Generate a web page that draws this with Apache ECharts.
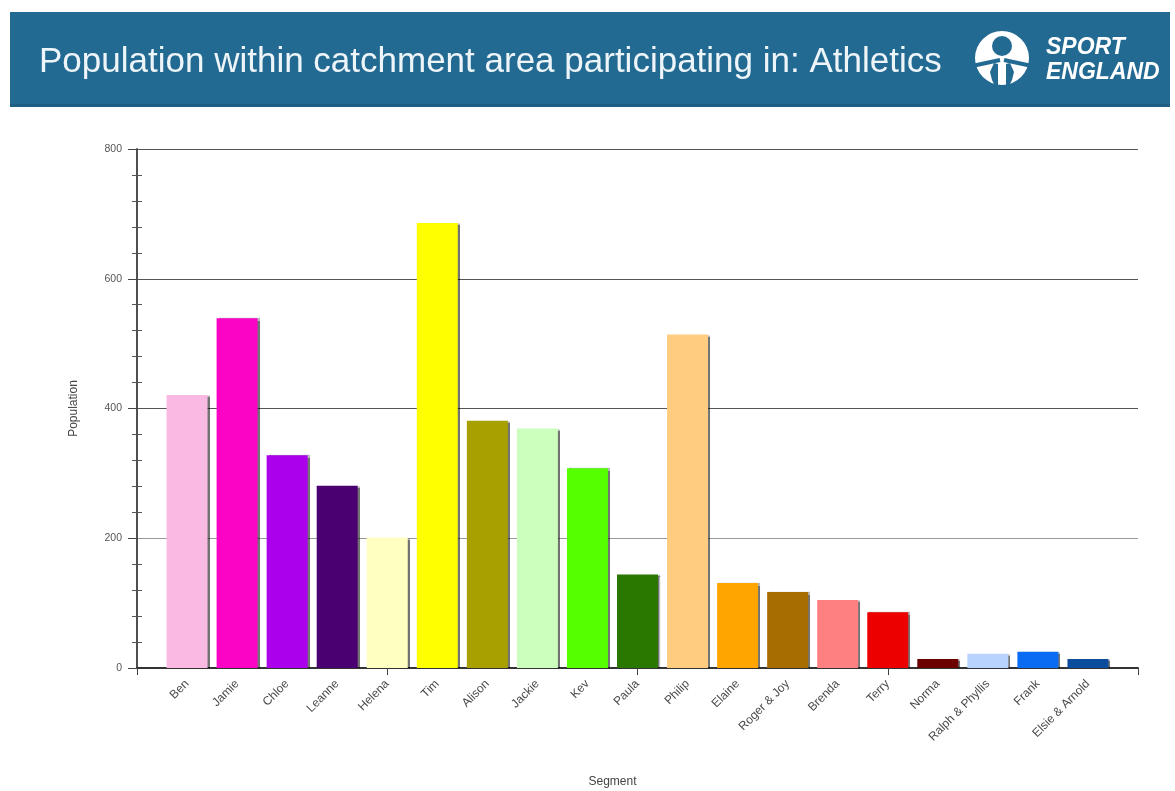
<!DOCTYPE html>
<html>
<head>
<meta charset="utf-8">
<script src="https://cdn.jsdelivr.net/npm/echarts@6/dist/echarts.min.js"></script>
<style>
html,body{margin:0;padding:0;background:#fff;}
#chart{width:1175px;height:791px;}
</style>
</head>
<body>
<div id="chart"></div>
<script>
const titleText = 'Population within catchment area participating in: Athletics';
const categories = ['Ben','Jamie','Chloe','Leanne','Helena','Tim','Alison','Jackie','Kev','Paula','Philip','Elaine','Roger & Joy','Brenda','Terry','Norma','Ralph & Phyllis','Frank','Elsie & Arnold'];
const values = [421, 539, 328, 281, 201, 686, 381, 369, 308, 144, 514, 131, 117, 105, 86, 14, 22, 25, 14];
const yTicks = [0, 200, 400, 600, 800];
const barColors = ['#f9b9e3','#fb04c6','#aa00ec','#4b0072','#ffffc2','#ffff00','#a89f00','#ccffbd','#55ff00','#2a7800','#ffcc80','#ffa500','#a86d00','#ff8080','#ec0000','#6c0000','#b9d3ff','#0a6cf2','#0b4c9c'];

const chart = echarts.init(document.getElementById('chart'));
const grid = {left: 137, right: 37, top: 149, bottom: 123, containLabel: false, outerBoundsMode: 'none'};
const yMax = yTicks[yTicks.length - 1];
const yStep = yTicks[1] - yTicks[0];
const xMax = categories.length + 1;
const BAND = '#236a93';

const option = {
  backgroundColor: '#ffffff',
  animation: false,
  title: {
    text: titleText,
    left: 34, top: 40,
    textStyle: {color: '#eef5f9', fontSize: 35, fontWeight: 'normal', fontFamily: 'Liberation Sans, Arial, sans-serif'}
  },
  graphic: [
    {type: 'rect', z: -10, shape: {x: 10, y: 12, width: 1160, height: 95}, style: {fill: BAND}},
    {type: 'rect', z: -10, shape: {x: 10, y: 104, width: 1160, height: 3}, style: {fill: '#1f5f84'}},
    // logo icon
    {type: 'circle', z: 10, shape: {cx: 1002, cy: 58, r: 27}, style: {fill: '#ffffff'}},
    {type: 'circle', z: 11, shape: {cx: 1002, cy: 46, r: 10}, style: {fill: BAND}},
    {type: 'line', z: 11, shape: {x1: 1000, y1: 60, x2: 972, y2: 66}, style: {stroke: BAND, lineWidth: 4}},
    {type: 'line', z: 11, shape: {x1: 1004, y1: 60, x2: 1032, y2: 66}, style: {stroke: BAND, lineWidth: 4}},
    {type: 'polygon', z: 11, shape: {points: [[994, 63], [990, 72], [992, 80], [996, 88], [998, 88], [998, 64]]}, style: {fill: BAND}},
    {type: 'polygon', z: 11, shape: {points: [[1010, 63], [1014, 72], [1012, 80], [1008, 88], [1006, 88], [1006, 64]]}, style: {fill: BAND}},
    {type: 'text', z: 10, left: 1046, top: 36, style: {text: 'SPORT', fill: '#ffffff', font: 'italic bold 23px "Liberation Sans", Arial, sans-serif'}},
    {type: 'text', z: 10, left: 1046, top: 61, style: {text: 'ENGLAND', fill: '#ffffff', font: 'italic bold 23px "Liberation Sans", Arial, sans-serif'}}
  ],
  grid: grid,
  xAxis: [
    {
      type: 'value', min: 0, max: xMax, interval: 5, position: 'bottom',
      axisLine: {show: true, onZero: false, lineStyle: {color: '#333', width: 2}},
      axisTick: {show: true, length: 7, lineStyle: {color: '#333', width: 1}},
      axisLabel: {show: false}, splitLine: {show: false}
    },
    {
      type: 'value', min: 0, max: xMax, interval: 1, position: 'bottom',
      axisLine: {show: false}, axisTick: {show: false}, splitLine: {show: false},
      axisLabel: {
        show: true, rotate: 45, fontSize: 12, color: '#4a4a4a', margin: 14,
        fontFamily: 'Liberation Sans, Arial, sans-serif',
        formatter: function (v) { return categories[v - 1] || ''; }
      },
      name: 'Segment', nameLocation: 'middle', nameGap: 108,
      nameTextStyle: {fontSize: 12, color: '#444', fontFamily: 'Liberation Sans, Arial, sans-serif', padding: [0, 50, 0, 0]}
    },
    {
      type: 'value', min: 0, max: xMax, interval: 5, position: 'top',
      axisLine: {show: false}, axisTick: {show: true, inside: true, length: 5, lineStyle: {color: '#444'}},
      axisLabel: {show: false}, splitLine: {show: false}
    }
  ],
  yAxis: [
    {
      type: 'value', min: 0, max: yMax, interval: yStep, position: 'left',
      axisLine: {show: true, lineStyle: {color: '#444', width: 1.5}},
      axisTick: {show: true, length: 9, lineStyle: {color: '#444'}},
      axisLabel: {fontSize: 10.5, color: '#555', margin: 15, fontFamily: 'Liberation Sans, Arial, sans-serif'},
      splitLine: {show: true, lineStyle: {color: ['#555', '#999', '#555', '#555', '#555'], width: 1.2}},
      name: 'Population', nameLocation: 'middle', nameGap: 57,
      nameTextStyle: {fontSize: 12, color: '#444', fontFamily: 'Liberation Sans, Arial, sans-serif'}
    },
    {
      type: 'value', min: 0, max: yMax, interval: yStep, position: 'left',
      axisLine: {show: false}, axisTick: {show: true, inside: true, length: 0},
      minorTick: {show: true, splitNumber: 5, length: 5, lineStyle: {color: '#555'}},
      axisLabel: {show: false}, splitLine: {show: false}
    },
    {
      type: 'value', min: 0, max: yMax, interval: yStep, position: 'right',
      axisLine: {show: true, lineStyle: {color: '#444', width: 1.5}},
      axisTick: {show: true, inside: true, length: 7, lineStyle: {color: '#444'}},
      minorTick: {show: true, splitNumber: 5, length: 5, lineStyle: {color: '#555'}},
      axisLabel: {show: false}, splitLine: {show: false}
    }
  ],
  series: [{
    type: 'bar',
    xAxisIndex: 1, yAxisIndex: 0,
    barWidth: 41,
    z: 3,
    data: categories.map(function (c, i) {
      return {value: [i + 1, values[i]], name: c, itemStyle: {color: barColors[i]}};
    }),
    itemStyle: {shadowColor: 'rgba(0,0,0,0.55)', shadowOffsetX: 2, shadowOffsetY: 0, shadowBlur: 1}
  }]
};
chart.setOption(option);
</script>
</body>
</html>
